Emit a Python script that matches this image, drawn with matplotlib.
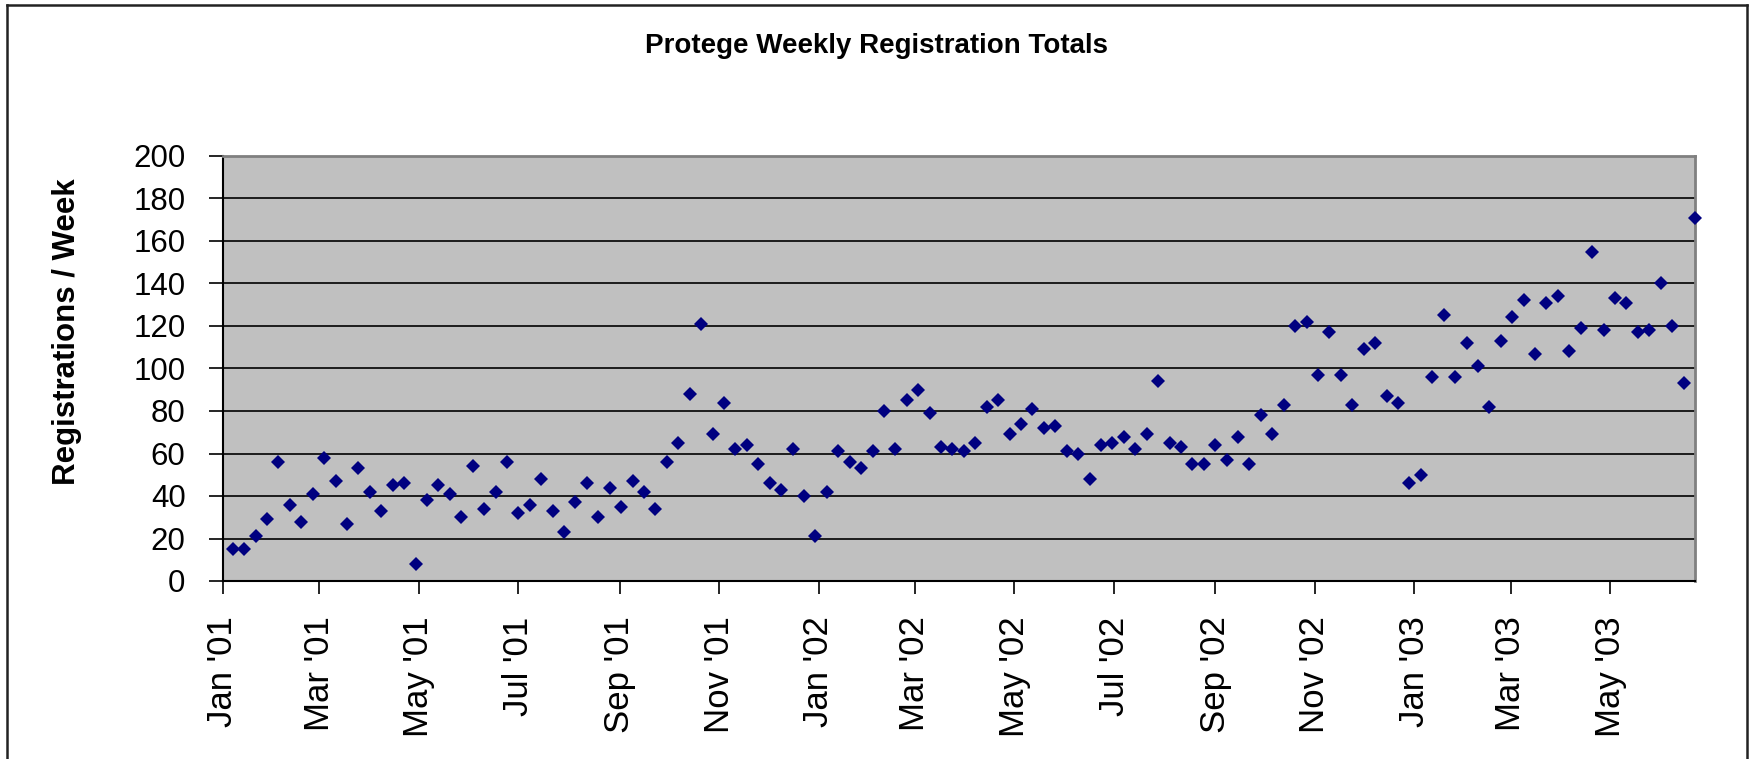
import numpy as np
import pandas as pd
import matplotlib
matplotlib.use("Agg")
import matplotlib.pyplot as plt
import matplotlib.dates as mdates
from matplotlib.lines import Line2D

# weekly totals, first week ending Jan 7 2001
registrations = [
    15, 15, 21, 29, 56, 36, 28, 41, 58, 47, 27, 53, 42, 33, 45, 46,
    8, 38, 45, 41, 30, 54, 34, 42, 56, 32, 36, 48, 33, 23, 37, 46,
    30, 44, 35, 47, 42, 34, 56, 65, 88, 121, 69, 84, 62, 64, 55, 46,
    43, 62, 40, 21, 42, 61, 56, 53, 61, 80, 62, 85, 90, 79, 63, 62,
    61, 65, 82, 85, 69, 74, 81, 72, 73, 61, 60, 48, 64, 65, 68, 62,
    69, 94, 65, 63, 55, 55, 64, 57, 68, 55, 78, 69, 83, 120, 122, 97,
    117, 97, 83, 109, 112, 87, 84, 46, 50, 96, 125, 96, 112, 101, 82, 113,
    124, 132, 107, 131, 134, 108, 119, 155, 118, 133, 131, 117, 118, 140, 120, 93,
    171,
]
first_week = "2001-01-07"
weeks = pd.date_range(first_week, periods=len(registrations), freq="7D")

title = "Protege Weekly Registration Totals"
y_label = "Registrations / Week"
y_ticks = np.arange(0, 201, 20)

plt.rcParams['font.family'] = ['Liberation Sans', 'DejaVu Sans']

W, H = 1753, 759
fig = plt.figure(figsize=(W / 100, H / 100), dpi=100)
ax = fig.add_axes([223 / W, 1 - 581 / H, (1695 - 223) / W, (581 - 156) / H])
ax.set_facecolor('#C0C0C0')

ax.plot(weeks, registrations, linestyle='none', marker='D', ms=7,
        color='#000080', mew=0, zorder=3, clip_on=False)

ax.set_ylim(0, 200)
ax.set_yticks(y_ticks)
ax.set_xlim(pd.Timestamp("2001-01-01"), weeks[-1])
ax.xaxis.set_major_locator(mdates.MonthLocator(bymonth=[1, 3, 5, 7, 9, 11]))
ax.xaxis.set_major_formatter(mdates.DateFormatter("%b '%y"))

ax.yaxis.grid(True, color='black', lw=1.2)
ax.set_axisbelow(True)
for side in ['left', 'bottom']:
    ax.spines[side].set_color('black')
    ax.spines[side].set_linewidth(1.5)
for side in ['top', 'right']:
    ax.spines[side].set_color('#808080')
    ax.spines[side].set_linewidth(2)

ax.tick_params(axis='y', direction='out', length=10, width=1.2, pad=17, labelsize=22.5)
ax.tick_params(axis='x', direction='out', length=9.5, width=1.2, pad=16, labelsize=25,
               labelrotation=90)

fig.text(0.5, 1 - 46 / H, title, ha='center', va='center', fontsize=20, fontweight='bold')
fig.text(67 / W, 1 - 332 / H, y_label, ha='center', va='center', rotation=90,
         fontsize=22.5, fontweight='bold')

# chart border (open at bottom)
for xs, ys in [([7 / W, 7 / W], [0, 1 - 5 / H]),
               ([7 / W, 1747 / W], [1 - 5 / H, 1 - 5 / H]),
               ([1747 / W, 1747 / W], [1 - 5 / H, 0])]:
    fig.add_artist(Line2D(xs, ys, transform=fig.transFigure, color='#222222', lw=1.8))

fig.savefig("out.png", dpi=100)
